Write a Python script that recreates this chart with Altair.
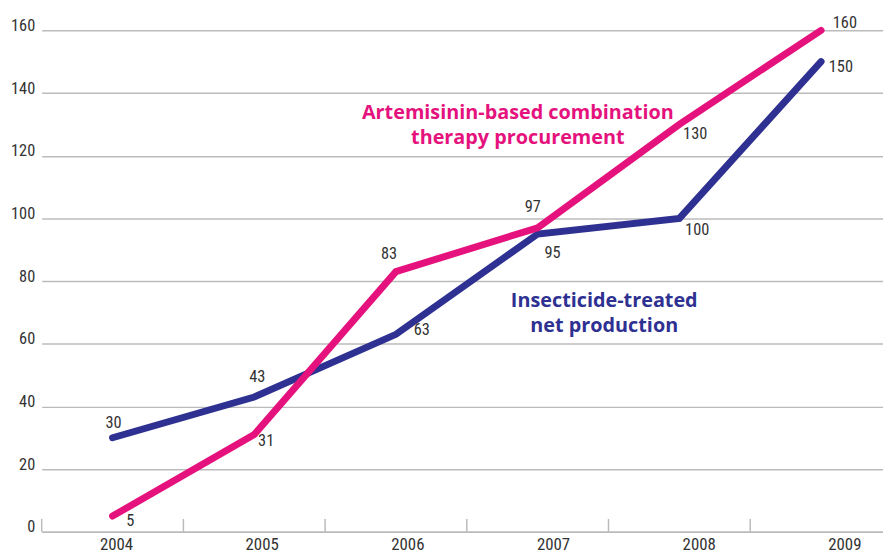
import altair as alt
import pandas as pd

# ---- data ----
years = [2004, 2005, 2006, 2007, 2008, 2009]
act_values = [5, 31, 83, 97, 130, 160]    # Artemisinin-based combination therapy procurement
itn_values = [30, 43, 63, 95, 100, 150]   # Insecticide-treated net production
y_ticks = [0, 20, 40, 60, 80, 100, 120, 140, 160]
tick_bounds = [2003.5, 2004.5, 2005.5, 2006.5, 2007.5, 2008.5]
tick_top = [4.1] * len(tick_bounds)

act_text = ["Artemisinin-based combination", "therapy procurement"]
itn_text = ["Insecticide-treated", "net production"]
annot_x = [2006.86, 2007.47]
annot_y = [133.6, 73.7]

# label offsets in pixels (dx, dy) for each value label
act_offsets = [(18, 5), (12, 7), (-7, -18), (-5, -21), (16, 10), (24, -7)]
itn_offsets = [(1, -15), (3, -20), (26, -4), (15, 19), (18, 12), (20, 5)]

PINK = "#E5127D"
NAVY = "#2E3191"
GRID = "#BBBBBB"
TEXT = "#333333"
NARROW = "Roboto Condensed, Liberation Sans Narrow, Arial Narrow, Roboto, sans-serif"
BOLD = "Open Sans, Liberation Sans, Arial, sans-serif"

W, H = 849, 506

act_df = pd.DataFrame({"year": years, "value": act_values})
itn_df = pd.DataFrame({"year": years, "value": itn_values})

x_scale = alt.Scale(domain=[2003.5, 2003.5 + W / 143.0], nice=False, zero=False)
y_scale = alt.Scale(domain=[0, 160], nice=False, zero=False)

y_axis = alt.Axis(values=y_ticks, grid=True, gridColor=GRID, gridWidth=1.5,
                  domain=False, ticks=False, labelFont=NARROW, labelFontSize=16.5,
                  labelColor=TEXT, labelBaseline="alphabetic", labelPadding=7,
                  title=None)
x_axis_main = alt.Axis(labels=False, ticks=False, grid=False, domainColor=GRID,
                       domainWidth=1.5, title=None)


def X():
    return alt.X("year:Q", scale=x_scale, axis=x_axis_main)


def Y():
    return alt.Y("value:Q", scale=y_scale, axis=y_axis)


itn_line = alt.Chart(itn_df).mark_line(color=NAVY, strokeWidth=7, strokeCap="round").encode(
    x=X(), y=Y())
act_line = alt.Chart(act_df).mark_line(color=PINK, strokeWidth=7, strokeCap="round").encode(
    x=X(), y=Y())

ticks_df = pd.DataFrame({"year": tick_bounds, "value": [0] * len(tick_bounds), "top": tick_top})
tick_rules = alt.Chart(ticks_df).mark_rule(color=GRID, strokeWidth=1.5).encode(
    x=X(), y=Y(), y2="top:Q")

label_layers = []
for df, offsets in ((act_df, act_offsets), (itn_df, itn_offsets)):
    for yr, (dx, dy) in zip(years, offsets):
        label_layers.append(
            alt.Chart(df).transform_filter(alt.datum.year == yr)
            .mark_text(font=NARROW, fontSize=16.5, color=TEXT, dx=dx, dy=dy,
                       align="center", baseline="middle")
            .encode(x=X(), y=Y(), text="value:Q")
        )

annot_df = pd.DataFrame({
    "year": annot_x,
    "value": annot_y,
    "label": ["\n".join(act_text), "\n".join(itn_text)],
    "series": ["ACT", "ITN"],
})
annot = alt.Chart(annot_df).mark_text(
    font=BOLD, fontSize=20, fontWeight="bold", lineBreak="\n", lineHeight=25.5,
    align="center", baseline="middle"
).encode(
    x=X(), y=Y(), text="label:N",
    color=alt.Color("series:N", scale=alt.Scale(domain=["ACT", "ITN"], range=[PINK, NAVY]),
                    legend=None),
)

main = alt.layer(tick_rules, itn_line, act_line, annot, *label_layers)

# year labels sit on their own (slightly wider-spaced) scale, as in the reference
year_df = pd.DataFrame({"year": years})
year_labels = alt.Chart(year_df).mark_point(opacity=0).encode(
    x=alt.X("year:Q",
            scale=alt.Scale(domain=[2004 - 75 / 147.0, 2004 + (W - 75) / 147.0], nice=False, zero=False),
            axis=alt.Axis(orient="bottom", values=years, format="d", ticks=False, domain=False,
                          grid=False, labelFont=NARROW, labelFontSize=17, labelColor=TEXT,
                          labelPadding=5, title=None)),
    y=alt.value(H),
)

chart = alt.layer(main, year_labels).resolve_scale(x="independent").properties(
    width=W, height=H,
    autosize=alt.AutoSizeParams(type="none"),
    padding={"left": 34, "top": 20, "right": 0, "bottom": 28},
    background="white",
).configure_view(stroke=None)

chart.save("out.html", embed_options={"renderer": "svg", "actions": False})
